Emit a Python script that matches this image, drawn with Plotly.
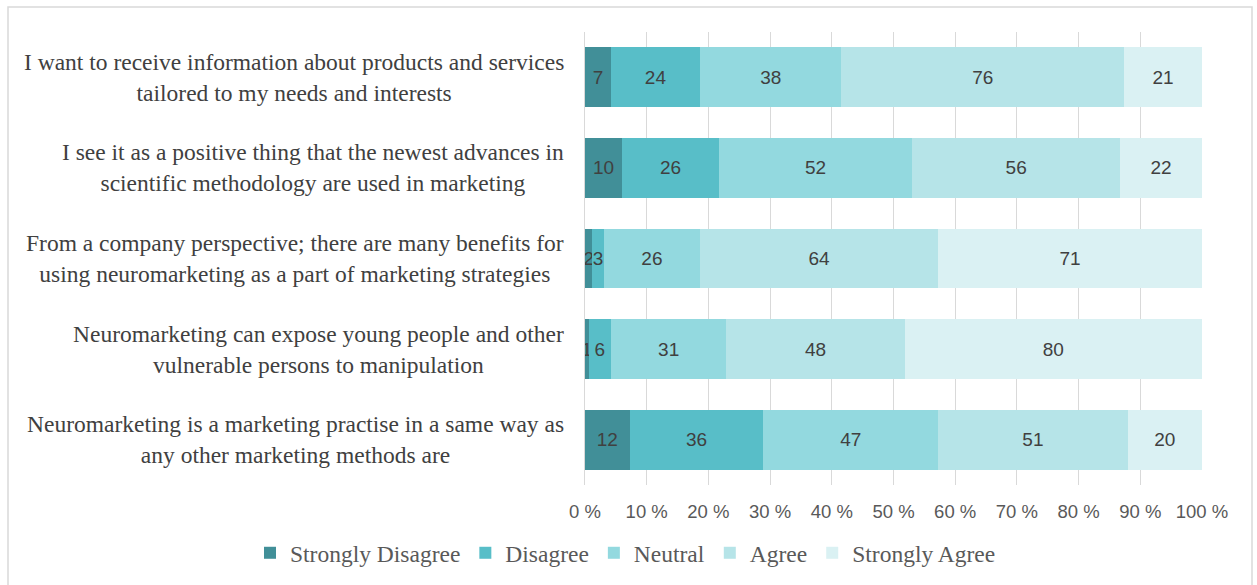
import plotly.graph_objects as go

statements = [
    "I want to receive information about products and services<br>tailored to my needs and interests",
    "I see it as a positive thing that the newest advances in<br>scientific methodology are used in marketing",
    "From a company perspective; there are many benefits for<br>using neuromarketing as a part of marketing strategies",
    "Neuromarketing can expose young people and other<br>vulnerable persons to manipulation",
    "Neuromarketing is a marketing practise in a same way as<br>any other marketing methods are",
]
row_ids = ["q1", "q2", "q3", "q4", "q5"]

strongly_disagree = [7, 10, 2, 1, 12]
disagree = [24, 26, 3, 6, 36]
neutral = [38, 52, 26, 31, 47]
agree = [76, 56, 64, 48, 51]
strongly_agree = [21, 22, 71, 80, 20]

series = [
    ("Strongly Disagree", strongly_disagree, "#418f98"),
    ("Disagree", disagree, "#58bec8"),
    ("Neutral", neutral, "#93d9df"),
    ("Agree", agree, "#b6e4e8"),
    ("Strongly Agree", strongly_agree, "#daf1f3"),
]

totals = [sum(v) for v in zip(*[s[1] for s in series])]

fig = go.Figure()
for name, counts, color in series:
    pct = [c / t * 100 for c, t in zip(counts, totals)]
    fig.add_trace(go.Bar(
        y=row_ids, x=pct, name=name, orientation="h",
        marker=dict(color=color, line=dict(width=0)),
        text=[str(c) for c in counts],
        textposition="inside", insidetextanchor="middle",
        textangle=0, constraintext="none",
        textfont=dict(family="Liberation Sans, Arial, sans-serif", size=19, color="#404040"),
        hoverinfo="skip",
    ))

# Category labels: centred multi-line text, right edge beside the axis
plot_left, plot_right = 585, 1202
pw = plot_right - plot_left
for rid, label in zip(row_ids, statements):
    fig.add_annotation(
        x=(566 - plot_left) / pw, xref="paper", y=rid, yref="y",
        text=label, showarrow=False, xanchor="right", align="center",
        font=dict(family="Liberation Serif, Times New Roman, serif", size=23.5, color="#404040"),
    )

# Outer frame around the whole chart
top, bottom = 32, 485
ph = bottom - top
fig.add_shape(
    type="rect", xref="paper", yref="paper",
    x0=(8 - plot_left) / pw, x1=(1252 - plot_left) / pw,
    y0=(bottom - 600) / ph, y1=(bottom - 7) / ph,
    line=dict(color="#d9d9d9", width=1.5), fillcolor="rgba(0,0,0,0)", layer="below",
)

fig.update_layout(
    barmode="stack", bargap=0.34,
    width=1257, height=585,
    margin=dict(l=plot_left, r=1257 - plot_right, t=top, b=585 - bottom, autoexpand=False),
    paper_bgcolor="white", plot_bgcolor="white",
    showlegend=True,
    legend=dict(
        orientation="h", x=(250 - plot_left) / pw, xanchor="left",
        y=(bottom - 553) / ph, yanchor="middle",
        bgcolor="rgba(0,0,0,0)",
        font=dict(family="Liberation Serif, Times New Roman, serif", size=23.5, color="#595959"),
        traceorder="normal", itemwidth=30,
    ),
    xaxis=dict(
        range=[0, 100], dtick=10, ticksuffix=" %",
        showgrid=True, gridcolor="#d9d9d9", gridwidth=1,
        zeroline=False, showline=False,
        ticklabelstandoff=13,
        tickfont=dict(family="Liberation Sans, Arial, sans-serif", size=18.5, color="#595959"),
    ),
    yaxis=dict(
        categoryorder="array", categoryarray=row_ids[::-1],
        showticklabels=False, showgrid=False, zeroline=False,
        showline=True, linecolor="#d9d9d9", linewidth=1,
    ),
)

fig.write_html("out.html")
